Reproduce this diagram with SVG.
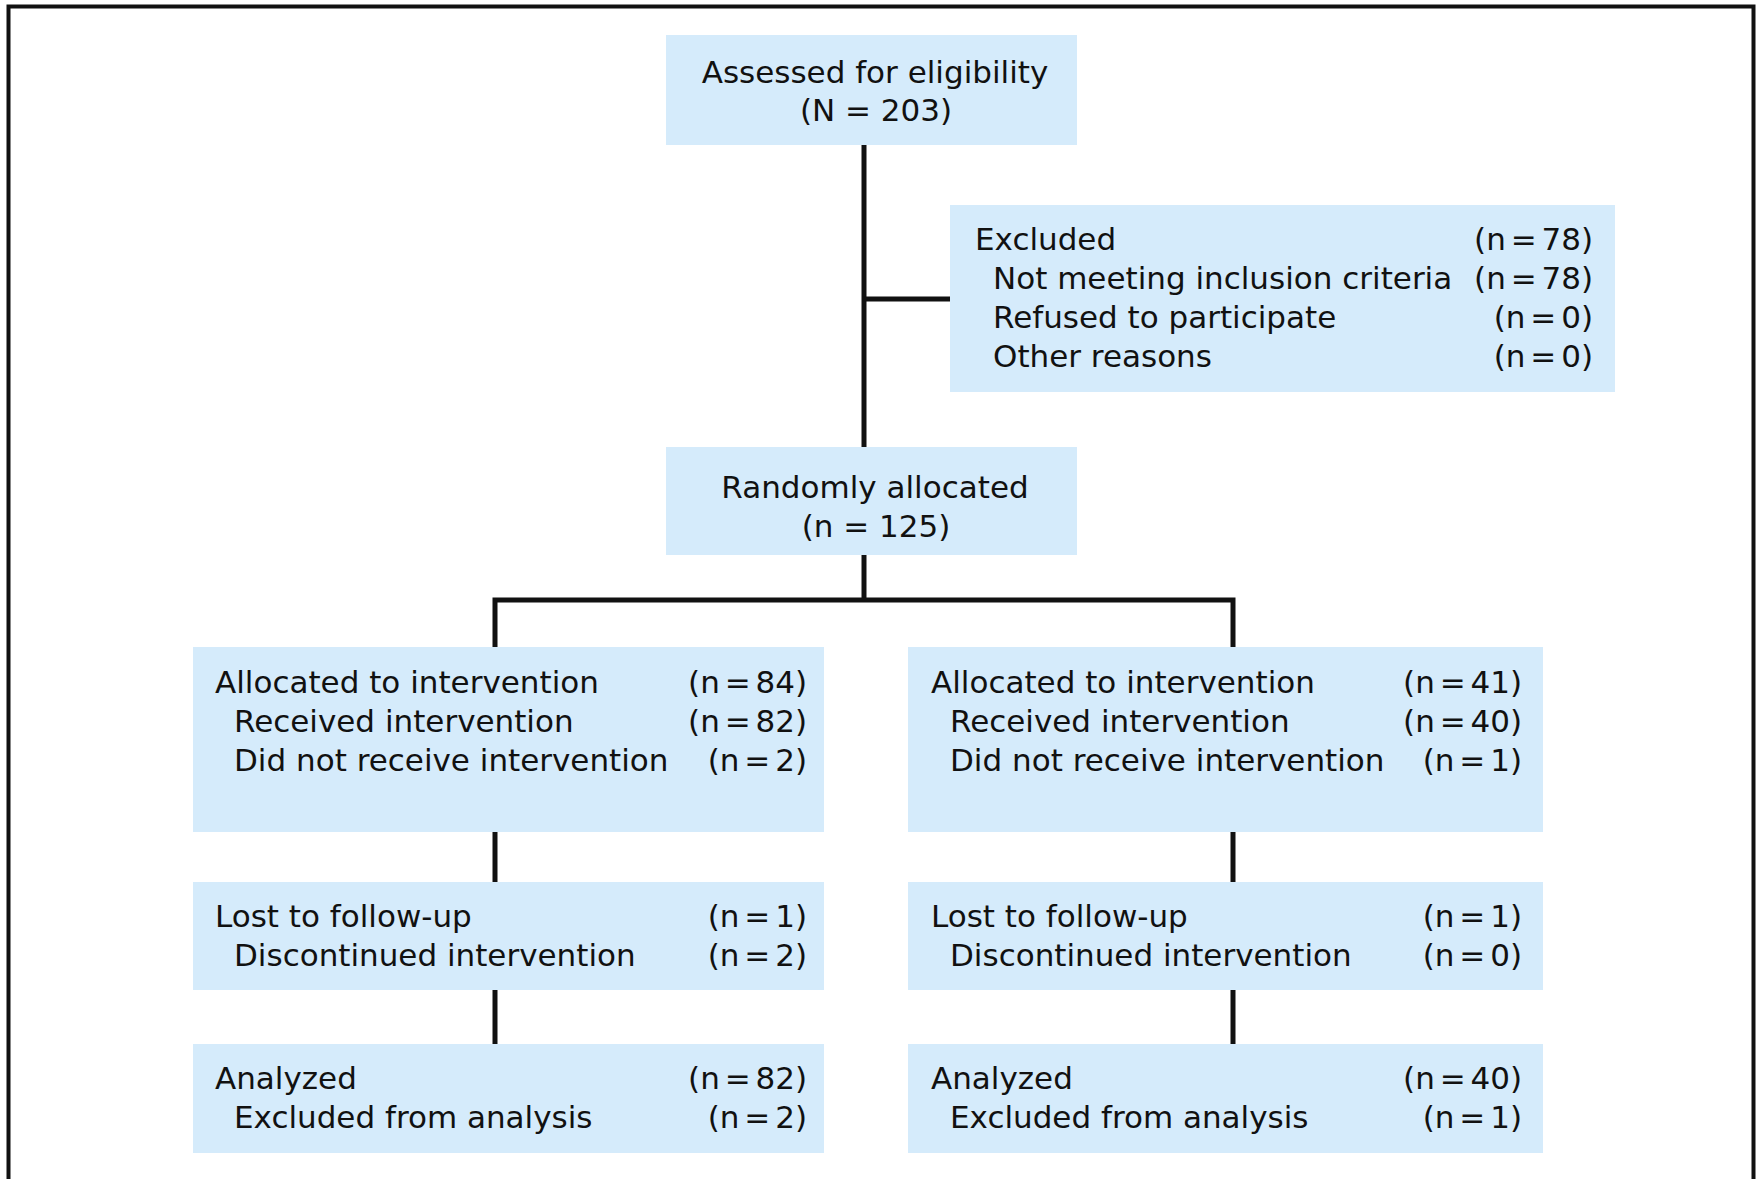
<svg xmlns="http://www.w3.org/2000/svg" width="1756" height="1179" viewBox="0 0 1756 1179">
<style>
.box{fill:#d5ebfb}
text{font-family:"DejaVu Sans","Liberation Sans",sans-serif;font-size:31px;fill:#111}
.c{text-anchor:middle}
.n{text-anchor:end;word-spacing:-5px}
.ln{stroke:#111;stroke-width:5;fill:none}
</style>
<rect x="0" y="0" width="1756" height="1179" fill="#fff"/>
<path d="M8.5,1185 V6.5 H1753.5 V1185" fill="none" stroke="#111" stroke-width="4"/>
<g id="connectors">
<path class="ln" d="M864,145 V447"/>
<path class="ln" d="M864,299 H950"/>
<path class="ln" d="M864,555 V600"/>
<path class="ln" d="M495,647 V600 H1233 V647"/>
<path class="ln" d="M495,832 V882"/>
<path class="ln" d="M1233,832 V882"/>
<path class="ln" d="M495,990 V1044"/>
<path class="ln" d="M1233,990 V1044"/>
</g>
<g id="assessed">
<rect class="box" x="666" y="35" width="411" height="110"/>
<text class="c" x="875" y="83">Assessed for eligibility</text>
<text class="c" x="876" y="121">(N = 203)</text>
</g>
<g id="excluded">
<rect class="box" x="950" y="205" width="665" height="187"/>
<text x="975" y="250">Excluded</text>
<text class="n" x="1593" y="250">(n = 78)</text>
<text x="993" y="289">Not meeting inclusion criteria</text>
<text class="n" x="1593" y="289">(n = 78)</text>
<text x="993" y="328">Refused to participate</text>
<text class="n" x="1593" y="328">(n = 0)</text>
<text x="993" y="367">Other reasons</text>
<text class="n" x="1593" y="367">(n = 0)</text>
</g>
<g id="randomized">
<rect class="box" x="666" y="447" width="411" height="108"/>
<text class="c" x="875" y="498">Randomly allocated</text>
<text class="c" x="876" y="537">(n = 125)</text>
</g>
<g id="alloc-left">
<rect class="box" x="193" y="647" width="631" height="185"/>
<text x="215" y="693">Allocated to intervention</text>
<text class="n" x="807" y="693">(n = 84)</text>
<text x="234" y="732">Received intervention</text>
<text class="n" x="807" y="732">(n = 82)</text>
<text x="234" y="771">Did not receive intervention</text>
<text class="n" x="807" y="771">(n = 2)</text>
</g>
<g id="alloc-right">
<rect class="box" x="908" y="647" width="635" height="185"/>
<text x="931" y="693">Allocated to intervention</text>
<text class="n" x="1522" y="693">(n = 41)</text>
<text x="950" y="732">Received intervention</text>
<text class="n" x="1522" y="732">(n = 40)</text>
<text x="950" y="771">Did not receive intervention</text>
<text class="n" x="1522" y="771">(n = 1)</text>
</g>
<g id="followup-left">
<rect class="box" x="193" y="882" width="631" height="108"/>
<text x="215" y="927">Lost to follow-up</text>
<text class="n" x="807" y="927">(n = 1)</text>
<text x="234" y="966">Discontinued intervention</text>
<text class="n" x="807" y="966">(n = 2)</text>
</g>
<g id="followup-right">
<rect class="box" x="908" y="882" width="635" height="108"/>
<text x="931" y="927">Lost to follow-up</text>
<text class="n" x="1522" y="927">(n = 1)</text>
<text x="950" y="966">Discontinued intervention</text>
<text class="n" x="1522" y="966">(n = 0)</text>
</g>
<g id="analysis-left">
<rect class="box" x="193" y="1044" width="631" height="109"/>
<text x="215" y="1089">Analyzed</text>
<text class="n" x="807" y="1089">(n = 82)</text>
<text x="234" y="1128">Excluded from analysis</text>
<text class="n" x="807" y="1128">(n = 2)</text>
</g>
<g id="analysis-right">
<rect class="box" x="908" y="1044" width="635" height="109"/>
<text x="931" y="1089">Analyzed</text>
<text class="n" x="1522" y="1089">(n = 40)</text>
<text x="950" y="1128">Excluded from analysis</text>
<text class="n" x="1522" y="1128">(n = 1)</text>
</g>
</svg>
